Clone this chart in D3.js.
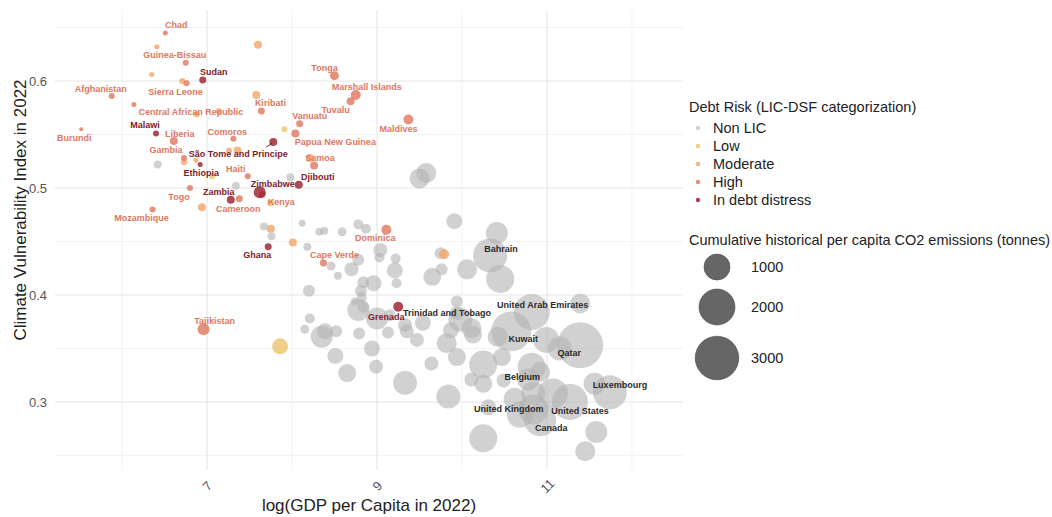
<!DOCTYPE html>
<html><head><meta charset="utf-8">
<script src="https://cdn.jsdelivr.net/npm/d3@7"></script>
<style>body{margin:0;background:#fff;font-family:"Liberation Sans",Arial,sans-serif}</style>
</head><body><svg id="c" width="1052" height="517"></svg>
<script>
// ---- DATA: [country label ("" = unlabeled), log GDP per capita, Climate Vulnerability Index, cumulative per-capita CO2 (t)]
const nonLIC = [
  ["",6.42,0.522,62],["",7.34,0.502,62],["",7.98,0.510,62],["",7.67,0.464,62],["",7.76,0.455,62],
  ["",8.12,0.467,43],["",8.18,0.445,62],["",9.50,0.509,562],["",9.58,0.514,562],["",8.32,0.459,62],
  ["",8.38,0.460,62],["",8.59,0.459,85],["",8.78,0.466,111],["",8.87,0.462,111],["",9.91,0.469,340],
  ["",10.41,0.458,694],["Bahrain",10.33,0.437,1778],["",9.75,0.439,174],["",8.46,0.427,85],["",8.54,0.418,62],
  ["",8.70,0.424,250],["",8.78,0.433,174],["",9.04,0.442,250],["",9.03,0.435,111],["",9.22,0.434,111],
  ["",9.21,0.423,340],["",9.23,0.411,111],["",9.76,0.424,174],["",9.65,0.417,444],["",10.06,0.424,562],
  ["",10.45,0.415,1174],["",8.20,0.404,174],["",8.84,0.412,174],["",8.96,0.411,340],["",8.81,0.404,174],
  ["",8.82,0.398,111],["",8.74,0.394,62],["",8.78,0.386,694],["",8.84,0.389,174],["",9.00,0.378,694],
  ["",9.15,0.381,174],["Trinidad and Tobago",9.33,0.372,250],["",9.54,0.374,340],["",9.47,0.358,250],["",9.35,0.366,250],
  ["",9.94,0.394,174],["",9.94,0.383,250],["",9.98,0.377,840],["",9.87,0.367,340],["",10.11,0.369,562],
  ["",10.13,0.363,444],["",9.82,0.355,562],["",8.21,0.378,111],["",8.15,0.368,85],["",8.35,0.361,694],
  ["",8.39,0.366,340],["",8.52,0.366,174],["",8.79,0.364,174],["",9.13,0.365,174],["",8.94,0.350,340],
  ["",8.51,0.343,340],["",9.64,0.336,250],["",8.99,0.333,250],["",9.94,0.342,444],["",8.65,0.327,444],
  ["",9.33,0.318,840],["",9.84,0.305,840],["",10.25,0.266,1174],["",10.31,0.295,340],["",10.25,0.335,1174],
  ["",10.47,0.342,444],["",10.42,0.361,562],["United Arab Emirates",10.82,0.384,2007],["",11.39,0.392,562],
  ["Kuwait",10.58,0.366,2507],["",10.99,0.358,1000],["",11.15,0.350,840],["Qatar",11.39,0.353,3361],
  ["",10.82,0.333,1174],["",10.92,0.328,562],["",10.11,0.321,250],["",10.25,0.317,444],["",10.49,0.320,250],
  ["Belgium",10.78,0.321,694],["",11.07,0.308,1361],["United States",11.27,0.300,2007],["",10.62,0.303,694],
  ["",10.84,0.293,1361],["United Kingdom",10.68,0.288,1000],["Canada",10.92,0.283,1562],["",10.84,0.308,840],
  ["Luxembourg",11.74,0.309,1778],["",11.56,0.317,694],["",11.58,0.272,694],["",11.45,0.254,562]
];
const low = [
  ["",7.91,0.555,28],["",7.06,0.511,28],["",7.75,0.486,43],["",7.86,0.352,340]
];
const moderate = [
  ["",6.41,0.632,16],["",7.60,0.634,62],["",6.35,0.606,16],["",6.71,0.600,28],["",7.58,0.587,62],
  ["",6.88,0.569,28],["",7.14,0.572,28],["",7.26,0.535,28],["",7.36,0.535,62],["",6.73,0.524,28],
  ["",6.87,0.526,16],["",8.21,0.528,62],["",6.94,0.482,62],["",7.75,0.462,62],["",8.01,0.449,62],
  ["",9.79,0.438,111]
];
const high = [
  ["Chad",6.51,0.645,16],["Guinea-Bissau",6.75,0.617,28],["Sierra Leone",6.76,0.598,28],
  ["Afghanistan",5.88,0.586,28],["Central African Republic",6.14,0.578,16],["Kiribati",7.64,0.572,43],
  ["Burundi",5.52,0.555,7],["Liberia",6.61,0.544,62],["Comoros",7.31,0.546,28],["Vanuatu",8.09,0.560,43],
  ["Papua New Guinea",8.04,0.551,62],["Gambia",6.73,0.528,28],["Haiti",7.48,0.511,28],["Togo",6.80,0.500,28],
  ["Mozambique",6.36,0.480,28],["Cameroon",7.38,0.490,43],["Kenya",7.65,0.494,43],["Tajikistan",6.96,0.368,174],
  ["Tonga",8.50,0.605,85],["Marshall Islands",8.75,0.587,111],["Tuvalu",8.69,0.581,62],["Maldives",9.37,0.564,111],
  ["Samoa",8.26,0.521,62],["Dominica",9.11,0.461,111],["Cape Verde",8.37,0.430,43]
];
const distress = [
  ["Sudan",6.95,0.601,43],["Malawi",6.40,0.551,28],["São Tome and Principe",7.78,0.543,62],
  ["Ethiopia",6.92,0.522,16],["Zimbabwe",7.62,0.496,174],["Zambia",7.28,0.489,62],
  ["Djibouti",8.08,0.503,62],["Ghana",7.72,0.445,43],["Grenada",9.25,0.389,111]
];
const riskNames = ["Non LIC","Low","Moderate","High","In debt distress"];
const xTicks = [7, 9, 11];
const yTicks = [0.3, 0.4, 0.5, 0.6];
const sizeBreaks = [1000, 2000, 3000];

// ---- label nudges (pixels, as placed by the repel layout in the reference)
const labelNudge = {
  "Chad":[11,-8],"Guinea-Bissau":[-11,-8],"Sudan":[11,-8],"Afghanistan":[-11,-7],"Sierra Leone":[-11,9],
  "Kiribati":[9,-8],"Central African Republic":[57,7],"Malawi":[-11,-8],"Burundi":[-7,9],"Liberia":[6,-7],
  "Comoros":[-6,-7],"Gambia":[-18,-8],"São Tome and Principe":[-35,12],"Ethiopia":[1,9],"Haiti":[-12,-7],
  "Zimbabwe":[13,-8],"Togo":[-11,9],"Zambia":[-12,-8],"Cameroon":[-1,10],"Kenya":[19,8],"Mozambique":[-11,9],
  "Ghana":[-11,8],"Tajikistan":[11,-8],"Tonga":[-10,-8],"Marshall Islands":[11,-8],"Tuvalu":[-15,9],
  "Vanuatu":[10,-8],"Maldives":[-10,9],"Papua New Guinea":[40,9],"Samoa":[6,-8],"Djibouti":[19,-8],
  "Dominica":[-11,8],"Cape Verde":[11,-8],"Grenada":[-12,10],"Trinidad and Tobago":[42,-12],
  "Bahrain":[11,-6],"United Arab Emirates":[11,-7],"Kuwait":[12,8],"Qatar":[-11,8],"Belgium":[-6,-2],
  "Luxembourg":[10,-7],"United Kingdom":[-11,-6],"United States":[10,9],"Canada":[11,8]
};

const fills = ["#b3b3b3","#ebc46e","#f4a466","#e0745e","#971c2b"];
const fillOp = [0.6,0.8,0.8,0.8,0.8];
const labelCol = ["#2b2b2b","#c9a043","#e08f5a","#dc7862","#80202c"];

const svg = d3.select("#c");
const L=55,R=683,T=10,B=470;
const x = d3.scaleLinear().domain([5.212,12.6]).range([L,R]);
const y = d3.scaleLinear().domain([0.2364,0.6664]).range([B,T]);
const r = d3.scaleSqrt().domain([0,1000]).range([1,13]);

// grid
const g = svg.append("g");
const xMinor=[6,8,10,12], yMinor=[0.25,0.35,0.45,0.55,0.65];
g.selectAll(".xmin").data(xMinor).join("line").attr("x1",d=>x(d)).attr("x2",d=>x(d)).attr("y1",T).attr("y2",B).attr("stroke","#eeeeee").attr("stroke-width",0.7);
g.selectAll(".ymin").data(yMinor).join("line").attr("y1",d=>y(d)).attr("y2",d=>y(d)).attr("x1",L).attr("x2",R).attr("stroke","#eeeeee").attr("stroke-width",0.7);
g.selectAll(".xmaj").data(xTicks).join("line").attr("x1",d=>x(d)).attr("x2",d=>x(d)).attr("y1",T).attr("y2",B).attr("stroke","#e6e6e6").attr("stroke-width",1.1);
g.selectAll(".ymaj").data(yTicks).join("line").attr("y1",d=>y(d)).attr("y2",d=>y(d)).attr("x1",L).attr("x2",R).attr("stroke","#e6e6e6").attr("stroke-width",1.1);

// axes
const ya = svg.append("g").attr("transform",`translate(${L},0)`).call(d3.axisLeft(y).tickValues(yTicks).tickFormat(d3.format(".1f")).tickSize(0).tickPadding(8));
ya.select(".domain").remove();
ya.selectAll("text").attr("font-size",13).attr("fill","#555").attr("font-family","Liberation Sans, Arial, sans-serif");
const xa = svg.append("g").attr("transform",`translate(0,${B})`).call(d3.axisBottom(x).tickValues(xTicks).tickSize(0).tickPadding(0));
xa.select(".domain").remove();
xa.selectAll("text").attr("font-size",13).attr("fill","#555").attr("font-family","Liberation Sans, Arial, sans-serif")
  .attr("y",0).attr("dy",0).attr("text-anchor","middle").attr("dominant-baseline","central")
  .attr("transform","translate(0,16) rotate(-45)");

svg.append("text").attr("x",(L+R)/2).attr("y",511).attr("text-anchor","middle").attr("font-size",17).attr("fill","#222").text("log(GDP per Capita in 2022)");
svg.append("text").attr("transform",`translate(26,${(T+B)/2-30}) rotate(-90)`).attr("text-anchor","middle").attr("font-size",17).attr("fill","#222").text("Climate Vulnerability Index in 2022");

// points
const groups=[nonLIC,low,moderate,high,distress];
const pts = svg.append("g");
groups.forEach((arr,gi)=>{
  pts.selectAll(null).data(arr).join("circle")
    .attr("cx",d=>x(d[1])).attr("cy",d=>y(d[2])).attr("r",d=>r(d[3]))
    .attr("fill",fills[gi]).attr("fill-opacity",fillOp[gi]);
});

// segment for São Tome
const stp = distress[2];
svg.append("line").attr("x1",x(stp[1])-1).attr("y1",y(stp[2])+1).attr("x2",x(stp[1])-7).attr("y2",y(stp[2])+5).attr("stroke","#80202c").attr("stroke-width",1);

// labels
const lab = svg.append("g").attr("font-size",9).attr("font-weight","bold").attr("text-anchor","middle").attr("dominant-baseline","central");
groups.forEach((arr,gi)=>{
  const lc = gi===0?"#2b2b2b":(gi===4?"#80202c":"#dc7862");
  lab.selectAll(null).data(arr.filter(d=>d[0])).join("text")
    .attr("x",d=>x(d[1])+(labelNudge[d[0]]||[0,0])[0]).attr("y",d=>y(d[2])+(labelNudge[d[0]]||[0,0])[1])
    .attr("fill",d=>(d[0]==="Mozambique")?"#dc7862":lc).text(d=>d[0]);
});

// legend: debt risk
const lg = svg.append("g").attr("transform","translate(689,0)");
lg.append("text").attr("x",0).attr("y",107).attr("dominant-baseline","central").attr("font-size",14.5).attr("fill","#222").text("Debt Risk (LIC-DSF categorization)");
riskNames.forEach((n,i)=>{
  const yy = 128 + i*18;
  lg.append("circle").attr("cx",9).attr("cy",yy).attr("r",2.3).attr("fill",fills[i]).attr("fill-opacity",fillOp[i]);
  lg.append("text").attr("x",24).attr("y",yy).attr("dominant-baseline","central").attr("font-size",14.5).attr("fill","#222").text(n);
});
lg.append("text").attr("x",0).attr("y",240).attr("dominant-baseline","central").attr("font-size",14.5).attr("fill","#222").text("Cumulative historical per capita CO2 emissions (tonnes)");
const sizeY=[267,307,358];
sizeBreaks.forEach((v,i)=>{
  lg.append("circle").attr("cx",28).attr("cy",sizeY[i]).attr("r",r(v)).attr("fill","#333").attr("fill-opacity",0.75).attr("stroke","#444").attr("stroke-width",0.6);
  lg.append("text").attr("x",62).attr("y",sizeY[i]).attr("dominant-baseline","central").attr("font-size",14.5).attr("fill","#222").text(v);
});
</script></body></html>
